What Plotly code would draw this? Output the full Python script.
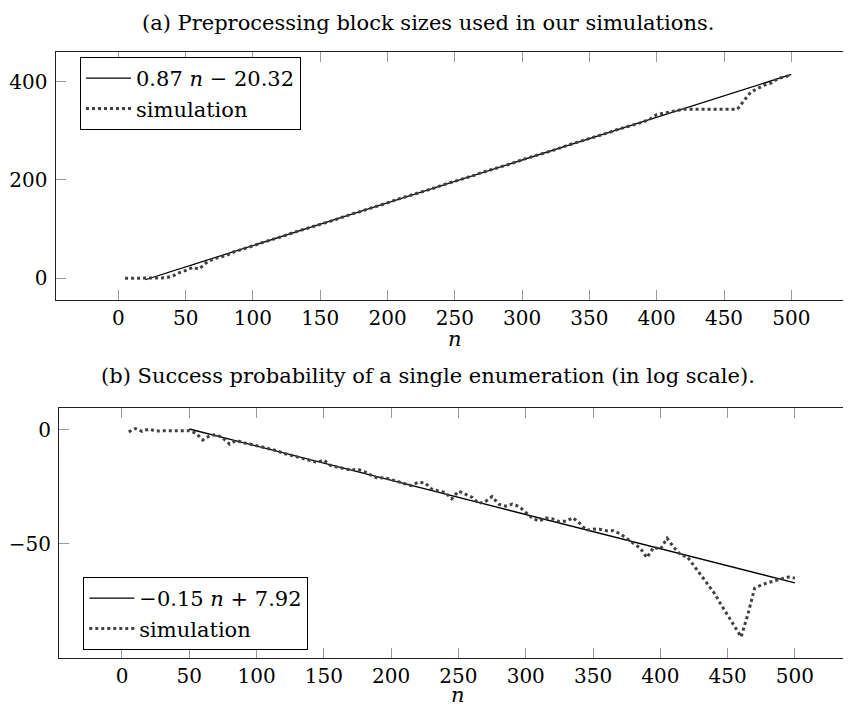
import plotly.graph_objects as go

# ---------------- data ----------------
n_values = [5, 10, 15, 20, 25, 30, 35, 40, 45, 50, 55, 60, 65, 70, 75, 80, 85, 90, 95, 100,
            105, 110, 115, 120, 125, 130, 135, 140, 145, 150, 155, 160, 165, 170, 175, 180, 185, 190, 195, 200,
            205, 210, 215, 220, 225, 230, 235, 240, 245, 250, 255, 260, 265, 270, 275, 280, 285, 290, 295, 300,
            305, 310, 315, 320, 325, 330, 335, 340, 345, 350, 355, 360, 365, 370, 375, 380, 385, 390, 395, 400,
            405, 410, 415, 420, 425, 430, 435, 440, 445, 450, 455, 460, 465, 470, 475, 480, 485, 490, 495, 500]

block_sim = [0, 0, 0, 0, 1, 1, 1, 4, 11, 16, 22, 19, 31, 39, 43, 46, 53, 57, 62, 66,
             71, 75, 80, 84, 88, 93, 97, 102, 106, 110, 114, 118, 123, 128, 132, 136, 141, 145, 149, 154,
             158, 163, 167, 171, 176, 180, 184, 189, 193, 198, 201, 206, 210, 215, 219, 223, 228, 232, 236, 241,
             245, 249, 254, 258, 262, 267, 272, 276, 280, 284, 289, 293, 297, 302, 306, 310, 315, 318, 324, 333,
             336, 338, 341, 344, 344, 344, 344, 344, 344, 344, 344, 344, 362, 379, 386, 393, 397, 406, 410, 413]

block_fit_n = [20, 500]
block_fit_y = [-2.92, 414.68]
block_fit_label = "0.87 <i>n</i> − 20.32"

prob_sim = [-0.8, 0.6, -0.6, 0.4, -0.5, -0.3, -0.3, -0.3, -0.3, -0.3, -1.5, -4.4, -2.6, -2.0, -3.6, -6.2, -4.6, -5.6, -6.2, -6.8,
            -7.6, -8.4, -9.1, -10.2, -10.9, -11.6, -12.6, -13.4, -14.2, -13.2, -15.6, -16.3, -16.9, -17.6, -17.2, -18.3, -19.8, -21.2, -20.9, -21.8,
            -22.9, -23.5, -24.4, -23.0, -23.2, -25.9, -26.8, -27.3, -30.2, -26.8, -28.0, -29.5, -32.2, -31.4, -29.2, -32.6, -33.4, -32.5, -33.6, -36.1,
            -38.7, -40.0, -38.6, -39.0, -40.2, -40.0, -38.5, -40.9, -44.0, -43.5, -43.6, -44.2, -44.2, -45.5, -47.5, -49.5, -51.8, -56.0, -51.5, -52.3,
            -47.5, -51.5, -54.8, -55.6, -59.5, -63.5, -67.5, -71.5, -76.5, -81.5, -86.0, -90.8, -81.0, -69.5, -68.0, -67.0, -66.0, -65.3, -64.5, -65.0]

prob_fit_n = [50, 500]
prob_fit_y = [0.42, -67.08]
prob_fit_label = "−0.15 <i>n</i> + 7.92"

x_ticks = [0, 50, 100, 150, 200, 250, 300, 350, 400, 450, 500]
y1_ticks = [0, 200, 400]
y2_ticks = [0, -50]

title_a = "(a) Preprocessing block sizes used in our simulations."
title_b = "(b) Success probability of a single enumeration (in log scale)."

# ---------------- figure ----------------
W, H = 851, 708
OFF = 8  # page body margin: figure is drawn 8px right/down of the window origin
FONT = "DejaVu Serif"
TICK_FS = 20
TEXT_FS = 21
SIM_COLOR = "#404040"

fig = go.Figure()
fig.add_trace(go.Scatter(x=block_fit_n, y=block_fit_y, mode="lines", name=block_fit_label,
                         line=dict(color="black", width=1.3), xaxis="x", yaxis="y", legend="legend"))
fig.add_trace(go.Scatter(x=n_values, y=block_sim, mode="lines", name="simulation",
                         line=dict(color=SIM_COLOR, width=3, dash="dot"), xaxis="x", yaxis="y", legend="legend"))
fig.add_trace(go.Scatter(x=prob_fit_n, y=prob_fit_y, mode="lines", name=prob_fit_label,
                         line=dict(color="black", width=1.3), xaxis="x2", yaxis="y2", legend="legend2"))
fig.add_trace(go.Scatter(x=n_values, y=prob_sim, mode="lines", name="simulation",
                         line=dict(color=SIM_COLOR, width=3, dash="dot"), xaxis="x2", yaxis="y2", legend="legend2"))


def fx(px):
    return (px - OFF) / W


def fy(py):
    return 1 - (py - OFF) / H


axis_common = dict(showgrid=False, zeroline=False, showline=True, linecolor="#222", linewidth=1.2,
                   ticks="inside", ticklen=10, tickcolor="#999", tickwidth=1, automargin=False,
                   tickfont=dict(family=FONT, size=TICK_FS, color="black"))

legend_common = dict(xanchor="left", yanchor="top", bordercolor="black", borderwidth=1, bgcolor="white",
                     font=dict(family=FONT, size=TEXT_FS, color="black"), tracegroupgap=0, itemwidth=45)

fig.update_layout(
    width=W, height=H, autosize=False,
    margin=dict(l=0, r=0, t=0, b=0, autoexpand=False),
    paper_bgcolor="white", plot_bgcolor="white",
    font=dict(family=FONT, size=TEXT_FS, color="black"),
    xaxis=dict(domain=[fx(55.5), 1], range=[-46.7, 550.3], anchor="y", tickvals=x_ticks,
               mirror="ticks", ticklabelstandoff=0, **axis_common),
    yaxis=dict(domain=[fy(300), fy(51.7)], range=[-44.1, 460.9], anchor="x", tickvals=y1_ticks,
               mirror=False, ticklabelstandoff=3, **axis_common),
    xaxis2=dict(domain=[fx(59), 1], range=[-46.8, 547.6], anchor="y2", tickvals=x_ticks,
                mirror="ticks", ticklabelstandoff=0, **axis_common),
    yaxis2=dict(domain=[fy(657.7), fy(408.3)], range=[-99.9, 9.5], anchor="x2", tickvals=y2_ticks,
                mirror=False, ticklabelstandoff=3, **axis_common),
    legend=dict(x=fx(80), y=fy(57), **legend_common),
    legend2=dict(x=fx(83.3), y=fy(577), **legend_common),
    showlegend=True,
)

annotations = [
    dict(text=title_a, x=fx(428), y=fy(9), xref="paper", yref="paper", showarrow=False,
         xanchor="center", yanchor="top", font=dict(family=FONT, size=TEXT_FS)),
    dict(text=title_b, x=fx(428), y=fy(376), xref="paper", yref="paper", showarrow=False,
         xanchor="center", yanchor="middle", font=dict(family=FONT, size=TEXT_FS)),
    dict(text="<i>n</i>", x=fx(455), y=fy(339), xref="paper", yref="paper", showarrow=False,
         xanchor="center", yanchor="middle", font=dict(family=FONT, size=TEXT_FS)),
    dict(text="<i>n</i>", x=fx(458), y=fy(695), xref="paper", yref="paper", showarrow=False,
         xanchor="center", yanchor="middle", font=dict(family=FONT, size=TEXT_FS)),
]
fig.update_layout(annotations=annotations)

fig.write_html("out.html")
